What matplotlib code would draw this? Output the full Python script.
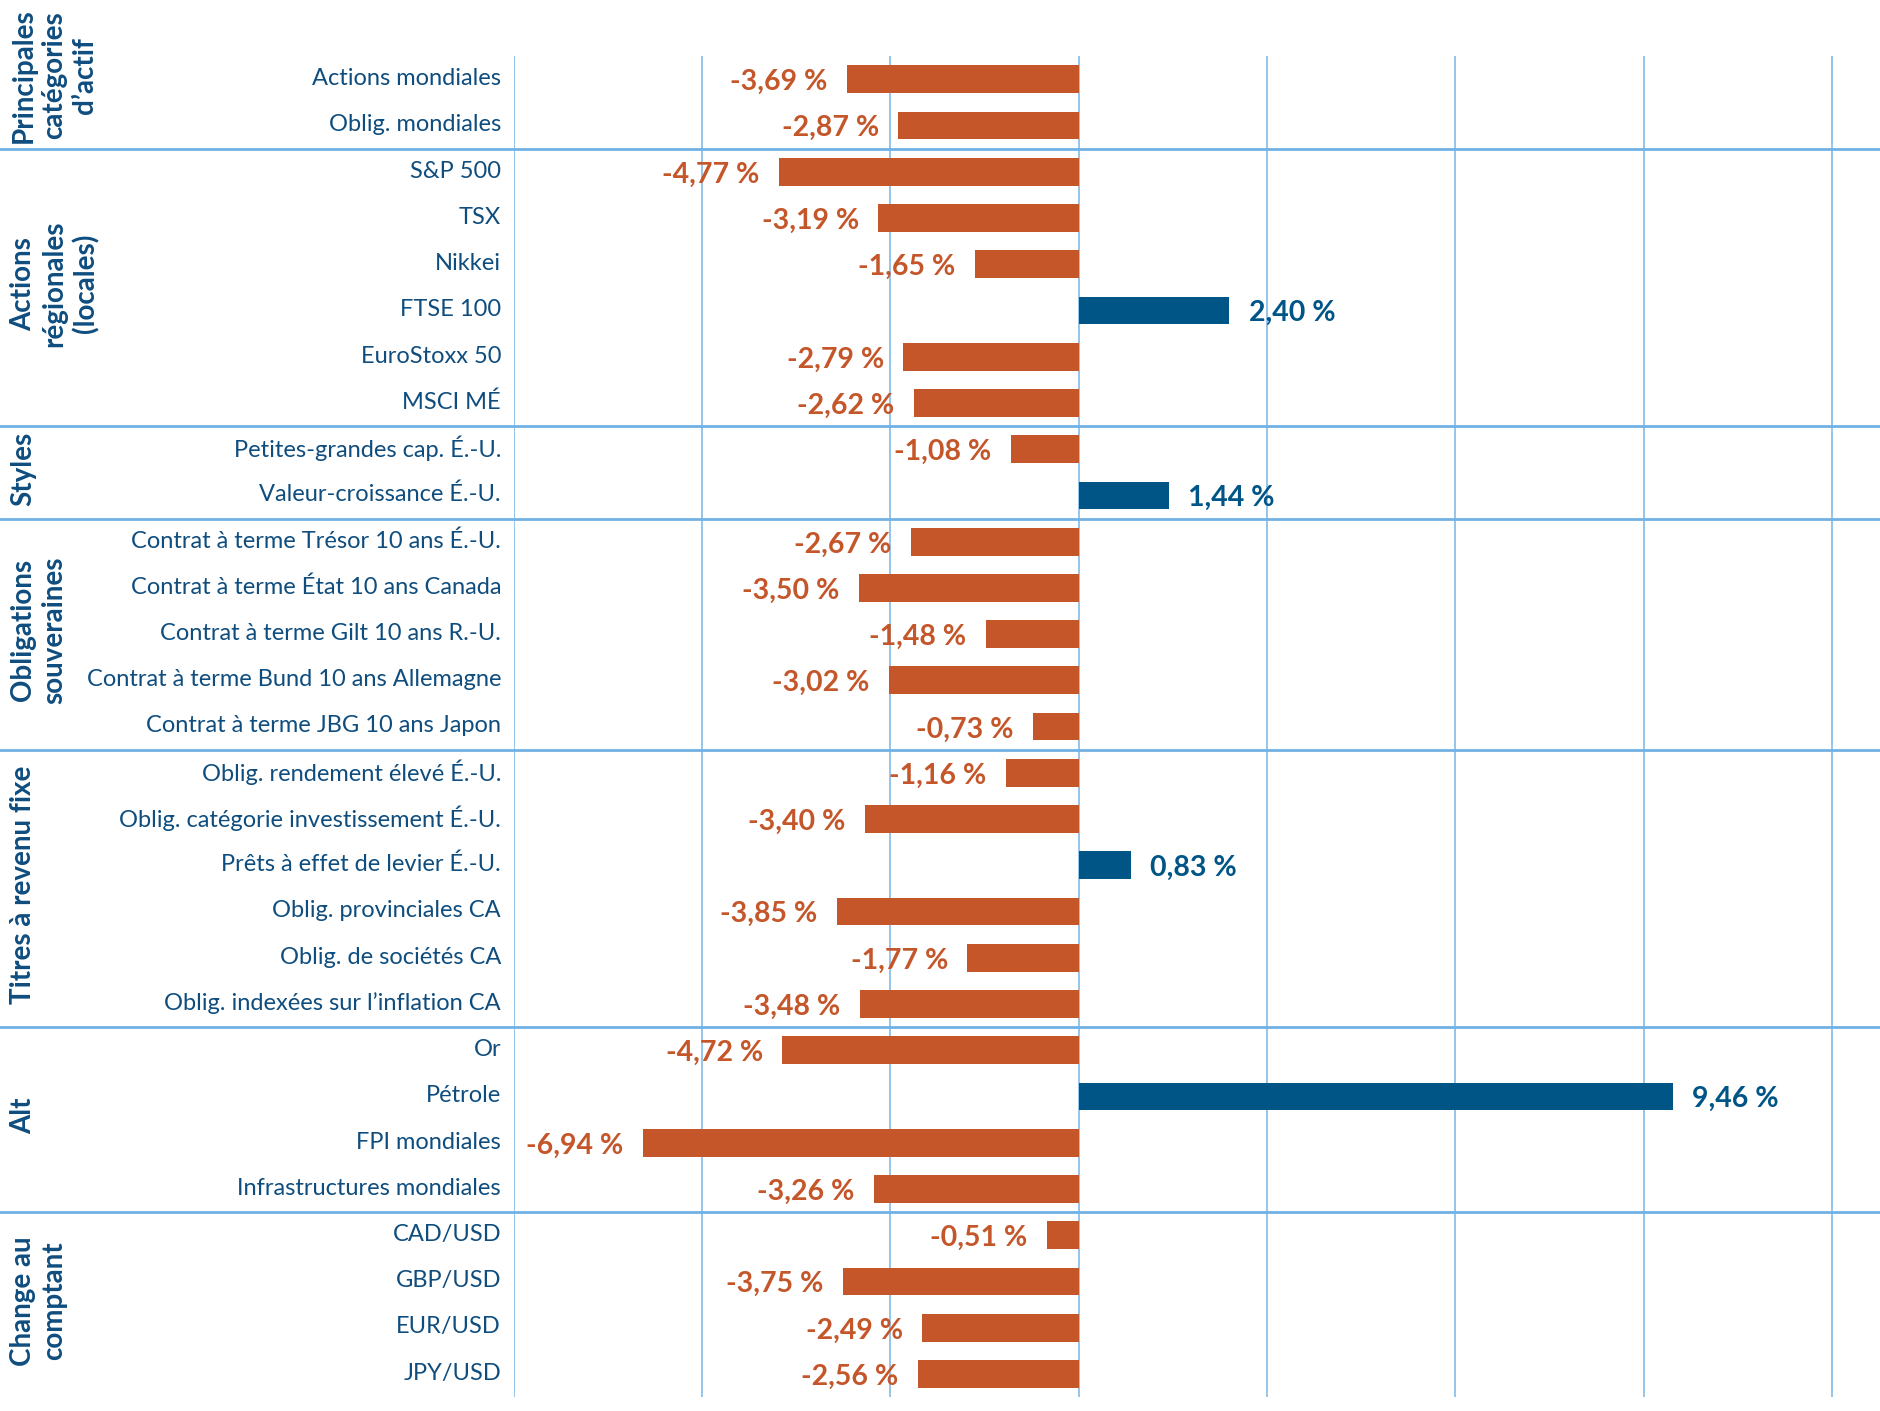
import matplotlib
matplotlib.use("Agg")
import matplotlib.pyplot as plt
import matplotlib.transforms as mtransforms

categories = [
    "Actions mondiales", "Oblig. mondiales",
    "S&P 500", "TSX", "Nikkei", "FTSE 100", "EuroStoxx 50", "MSCI MÉ",
    "Petites-grandes cap. É.-U.", "Valeur-croissance É.-U.",
    "Contrat à terme Trésor 10 ans É.-U.", "Contrat à terme État 10 ans Canada",
    "Contrat à terme Gilt 10 ans R.-U.", "Contrat à terme Bund 10 ans Allemagne",
    "Contrat à terme JBG 10 ans Japon",
    "Oblig. rendement élevé É.-U.", "Oblig. catégorie investissement É.-U.",
    "Prêts à effet de levier É.-U.", "Oblig. provinciales CA",
    "Oblig. de sociétés CA", "Oblig. indexées sur l’inflation CA",
    "Or", "Pétrole", "FPI mondiales", "Infrastructures mondiales",
    "CAD/USD", "GBP/USD", "EUR/USD", "JPY/USD",
]
values = [
    -3.69, -2.87,
    -4.77, -3.19, -1.65, 2.40, -2.79, -2.62,
    -1.08, 1.44,
    -2.67, -3.50, -1.48, -3.02, -0.73,
    -1.16, -3.40, 0.83, -3.85, -1.77, -3.48,
    -4.72, 9.46, -6.94, -3.26,
    -0.51, -3.75, -2.49, -2.56,
]
group_names = [
    "Principales\ncatégories\nd’actif",
    "Actions\nrégionales\n(locales)",
    "Styles",
    "Obligations\nsouveraines",
    "Titres à revenu fixe",
    "Alt",
    "Change au\ncomptant",
]
group_sizes = [2, 6, 2, 5, 6, 4, 4]
x_ticks = [-9, -6, -3, 0, 3, 6, 9, 12]

ORANGE = "#C4562A"
BLUE = "#005587"
TEXT = "#0E4D7E"
GRID = "#8CC0EA"
SEP = "#72B1E4"

plt.rcParams["font.family"] = ["Lato", "DejaVu Sans"]

fig = plt.figure(figsize=(18.81, 14.11), dpi=100)
ax = fig.add_axes([0.273, 0.0099, 0.727, 0.9503])

n = len(categories)
ypos = list(range(n))
colors = [ORANGE if v < 0 else BLUE for v in values]
ax.barh(ypos, values, height=0.6, color=colors, zorder=3)

ax.set_ylim(n - 0.5, -0.5)
ax.set_xlim(-9, 12.78)
ax.set_xticks(x_ticks)
ax.xaxis.grid(True, color=GRID, linewidth=1.3, zorder=0)
ax.set_xticklabels([])
ax.tick_params(axis="x", length=0)
for s in ax.spines.values():
    s.set_visible(False)

ax.set_yticks(ypos)
ax.set_yticklabels(categories, fontsize=17, color=TEXT, va="center")
ax.tick_params(axis="y", length=0, pad=9)
offset = mtransforms.ScaledTranslation(0, 0.5 / 72, fig.dpi_scale_trans)
for lbl in ax.get_yticklabels():
    lbl.set_transform(lbl.get_transform() + offset)

for y, v in zip(ypos, values):
    txt = f"{v:.2f}".replace(".", ",") + " %"
    if v < 0:
        ax.annotate(txt, (v, y), xytext=(-14, -2), textcoords="offset points",
                    ha="right", va="center", fontsize=20.5, fontweight="bold",
                    color=ORANGE, zorder=4)
    else:
        ax.annotate(txt, (v, y), xytext=(14, -2), textcoords="offset points",
                    ha="left", va="center", fontsize=20.5, fontweight="bold",
                    color=BLUE, zorder=4)

# group separators and labels
trans = mtransforms.blended_transform_factory(fig.transFigure, ax.transData)
start = 0
for i, (g, sz) in enumerate(zip(group_names, group_sizes)):
    end = start + sz
    if i > 0:
        ax.plot([0, 1], [start - 0.5, start - 0.5], transform=trans,
                color=SEP, linewidth=2.0, clip_on=False, zorder=2)
    center = (start - 0.5 + end - 0.5) / 2
    if i == 0:
        ax.text(0.0055, 1.37, g, transform=trans, rotation=90, ha="left",
                va="bottom", fontsize=20, fontweight="bold", color=TEXT,
                multialignment="center", linespacing=1.22)
    else:
        ax.text(0.0055, center - 0.08, g, transform=trans, rotation=90, ha="left",
                va="center", fontsize=20, fontweight="bold", color=TEXT,
                multialignment="center", linespacing=1.22)
    start = end

fig.savefig("out.png", dpi=100)
